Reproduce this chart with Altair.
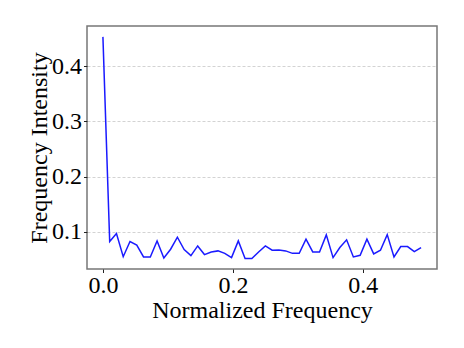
import altair as alt
import pandas as pd

freq_index = list(range(48))
intensity = [
    0.453, 0.0824, 0.097, 0.055, 0.0824, 0.076, 0.0545, 0.0545, 0.0836, 0.0527,
    0.0685, 0.0903, 0.068, 0.057, 0.0745, 0.0588, 0.0636, 0.0655, 0.061, 0.0533,
    0.0836, 0.0515, 0.0515, 0.0636, 0.0745, 0.0667, 0.067, 0.0655, 0.061, 0.061,
    0.0867, 0.0636, 0.0636, 0.0945, 0.0533, 0.0715, 0.0855, 0.0545, 0.0576, 0.0867,
    0.06, 0.0667, 0.095, 0.0545, 0.0733, 0.0733, 0.064, 0.0715,
]
x_ticks = [0.0, 0.2, 0.4]
y_ticks = [0.1, 0.2, 0.3, 0.4]

df = pd.DataFrame({"f": [k / 96 for k in freq_index], "v": intensity})

FONT = "Liberation Serif"

chart = (
    alt.Chart(df)
    .mark_line(color="#1a1aff", strokeWidth=1.5)
    .encode(
        x=alt.X(
            "f:Q",
            scale=alt.Scale(domain=[-0.0245, 0.5141], nice=False, zero=False),
            axis=alt.Axis(
                title="Normalized Frequency",
                values=x_ticks,
                format=".1f",
                grid=False,
                domain=False,
                tickColor="#222222",
                tickSize=3.5,
                labelPadding=1,
                titlePadding=1,
                labelFontSize=24,
                titleFontSize=24,
                labelFont=FONT,
                titleFont=FONT,
                titleFontWeight="normal",
                labelColor="black",
                titleColor="black",
            ),
        ),
        y=alt.Y(
            "v:Q",
            scale=alt.Scale(domain=[0.0327, 0.4727], nice=False, zero=False),
            axis=alt.Axis(
                title="Frequency Intensity",
                values=y_ticks,
                format=".1f",
                grid=True,
                gridDash=[3, 2],
                gridColor="#c8c8c8",
                gridWidth=0.8,
                domain=False,
                tickColor="#222222",
                tickSize=3.5,
                labelPadding=2,
                titlePadding=0,
                labelFontSize=24,
                titleFontSize=24,
                labelFont=FONT,
                titleFont=FONT,
                titleFontWeight="normal",
                labelColor="black",
                titleColor="black",
            ),
        ),
    )
    .properties(
        width=350,
        height=243,
        autosize=alt.AutoSizeParams(type="none"),
        padding={"left": 79, "top": 18, "right": 10, "bottom": 60},
    )
    .configure_view(stroke="#777777", strokeWidth=1.5, fill="white")
)

chart.save("out.html", embed_options={"renderer": "svg", "actions": False})
